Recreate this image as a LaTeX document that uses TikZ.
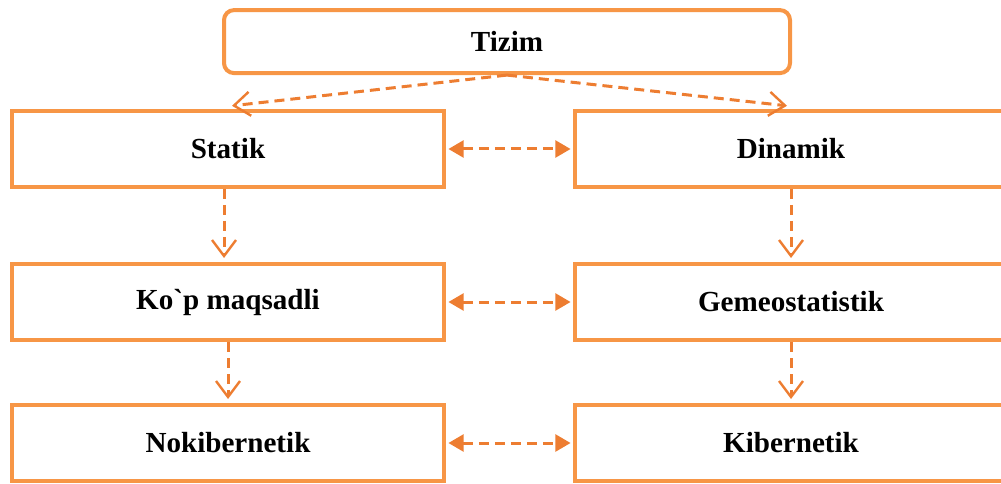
\documentclass[tikz,border=0pt]{standalone}
\usepackage{fontspec}
\setmainfont{Liberation Serif}
\usepackage{tikz}
\usetikzlibrary{arrows.meta, positioning}
\definecolor{boxorange}{HTML}{F79646}
\definecolor{arrorange}{HTML}{ED7D31}
\newcommand{\gravemark}{\XeTeXglyph\XeTeXcharglyph"60\relax}
\tikzset{
    block/.style={rectangle, draw=boxorange, line width=0.1cm, fill=white, align=center, minimum width=10.8cm, minimum height=1.9cm, font=\fontsize{20.7}{25}\selectfont\bfseries},
    topblock/.style={block, rounded corners=0.25cm, minimum width=14.15cm, minimum height=1.575cm},
    arrow/.style={draw=arrorange, line width=0.075cm, dash pattern=on 0.25cm off 0.15cm, -{Straight Barb[length=0.4cm, width=0.6cm, line width=0.06cm]}},
    biarrow/.style={draw=arrorange, line width=0.075cm, dash pattern=on 0.25cm off 0.15cm, {Triangle[length=0.38cm, width=0.42cm]}-{Triangle[length=0.38cm, width=0.42cm]}, shorten <=0.06cm, shorten >=0.06cm}
}
\begin{document}
\begin{tikzpicture}
    \useasboundingbox (0,0) rectangle (25.025,-12.1);

    \node (Tizim) [topblock] at (12.675,-1.04) {Tizim};

    % Left column
    \node (Statik) [block] at (5.7,-3.725) {Statik};
    \node (Kop) [block, below=1.825cm of Statik] {Ko\gravemark p maqsadli};
    \node (Noki) [block, below=1.525cm of Kop] {Nokibernetik};

    % Right column
    \node (Dinamik) [block, right=3.175cm of Statik] {Dinamik};
    \node (Gemeo) [block, below=1.825cm of Dinamik] {Gemeostatistik};
    \node (Kiber) [block, below=1.525cm of Gemeo] {Kibernetik};

    % Tizim -> Statik / Dinamik
    \draw[arrow] (Tizim.south) -- ([xshift=0.1cm, yshift=0.08cm]Statik.north);
    \draw[arrow] (Tizim.south) -- ([xshift=-0.1cm, yshift=0.08cm]Dinamik.north);

    % Downward arrows
    \draw[arrow, shorten >=0.1cm] ([xshift=-0.1cm]Statik.south) -- ([xshift=-0.1cm]Kop.north);
    \draw[arrow, shorten >=0.1cm] (Kop.south) -- (Noki.north);
    \draw[arrow, shorten >=0.1cm] (Dinamik.south) -- (Gemeo.north);
    \draw[arrow, shorten >=0.1cm] (Gemeo.south) -- (Kiber.north);

    % Links between columns
    \draw[biarrow] (Statik.east) -- (Dinamik.west);
    \draw[biarrow] (Kop.east) -- (Gemeo.west);
    \draw[biarrow] (Noki.east) -- (Kiber.west);
\end{tikzpicture}
\end{document}
